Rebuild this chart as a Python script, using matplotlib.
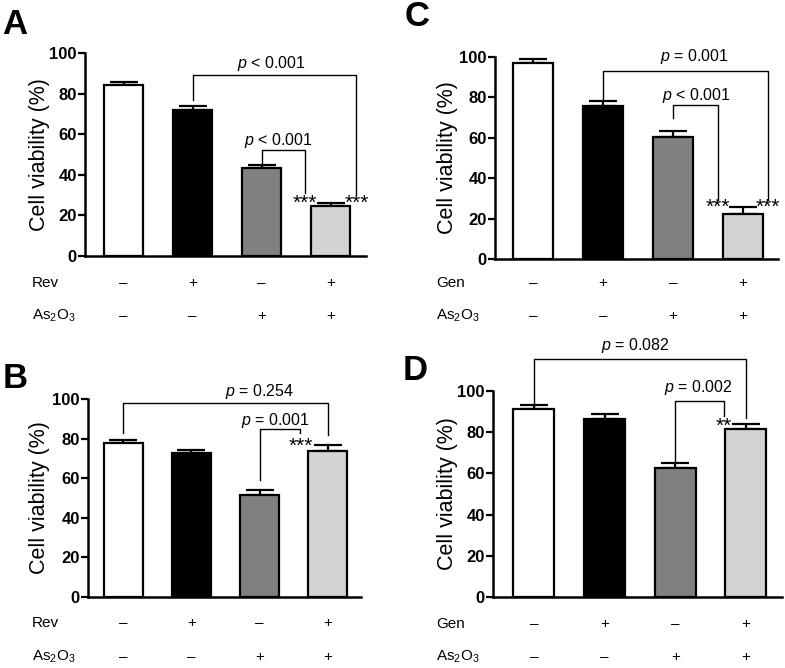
import matplotlib
matplotlib.use("Agg")
import matplotlib.pyplot as plt
from matplotlib.transforms import blended_transform_factory

plt.rcParams['font.family'] = ['Liberation Sans', 'DejaVu Sans']
plt.rcParams['mathtext.fontset'] = 'custom'
plt.rcParams['mathtext.rm'] = 'Liberation Sans'
plt.rcParams['mathtext.it'] = 'Liberation Sans:italic'
plt.rcParams['mathtext.bf'] = 'Liberation Sans:bold'

# ---- data ----
colors = ['#ffffff', '#000000', '#808080', '#d3d3d3']
A_values = [84, 72, 43.5, 24.5]
A_errors = [1.5, 2.0, 1.5, 1.5]
B_values = [78, 72.5, 51.5, 73.5]
B_errors = [1.5, 1.5, 2.5, 3.5]
C_values = [97, 75.5, 60.5, 22.5]
C_errors = [2.0, 2.5, 3.0, 3.0]
D_values = [91.5, 86.5, 62.5, 81.5]
D_errors = [1.5, 2.5, 2.5, 2.5]

rev_signs = ['–', '+', '–', '+']
gen_signs = ['–', '+', '–', '+']
as_signs = ['–', '–', '+', '+']
yticks = [0, 20, 40, 60, 80, 100]

# brackets: (x_left, x_right, y_top, y_left_foot, y_right_foot, p-text, text_x, text_y, stars, star_y)
A_brackets = [
    (1.0, 3.37, 89, 77, 30, ' < 0.001', 2.14, 95, '***', 26),
    (2.0, 2.62, 52, 46, 31, ' < 0.001', 2.24, 57, '***', 26),
]
C_brackets = [
    (1.0, 3.36, 93, 79, 29, ' = 0.001', 2.31, 100, '***', 25.5),
    (2.0, 2.64, 76, 70, 29, ' < 0.001', 2.33, 81, '***', 25.5),
]
B_brackets = [
    (0.0, 3.0, 98, 83, 82, ' = 0.254', 2.0, 104, None, None),
    (2.0, 2.6, 85, 59, 83, ' = 0.001', 2.24, 89, '***', 76),
]
D_brackets = [
    (0.0, 3.0, 115.5, 92.5, 87, ' = 0.082', 1.44, 122, None, None),
    (2.0, 2.69, 95, 65, 88, ' = 0.002', 2.32, 101.5, '**', 83),
]

fig = plt.figure(figsize=(7.85, 6.68), dpi=100)


def panel(rect, xlim, width, values, errors, brackets, row1name, row1, row2,
          row1_y, row2_y, name_x, ylabel_x, letter, letter_xy):
    ax = fig.add_axes(rect)
    x = list(range(len(values)))
    ax.bar(x, values, width=width, color=colors, edgecolor='black',
           linewidth=1.6, zorder=2)
    ax.errorbar(x, values, yerr=[[0] * len(errors), errors], fmt='none',
                ecolor='black', elinewidth=1.6, capsize=10, capthick=1.6,
                zorder=1)
    ax.set_xlim(*xlim)
    ax.set_ylim(0, 100)
    ax.set_yticks(yticks)
    ax.set_yticklabels([str(t) for t in yticks], fontweight='bold', fontsize=12)
    ax.set_xticks([])
    for s in ['top', 'right']:
        ax.spines[s].set_visible(False)
    for s in ['left', 'bottom']:
        ax.spines[s].set_linewidth(1.8)
    ax.tick_params(axis='y', direction='out', length=5, width=1.6, pad=1)
    ax.patch.set_alpha(0)

    for (xl, xr, yt, yfl, yfr, ptxt, tx, ty, stars, sy) in brackets:
        ax.plot([xl, xl, xr, xr], [yfl, yt, yt, yfr], color='black', lw=1.0,
                clip_on=False, zorder=3)
        ax.text(tx, ty, '$\\mathit{p}$' + ptxt, ha='center', va='center',
                fontsize=11.5, clip_on=False)
        if stars is not None:
            ax.text(xr, sy, stars, ha='center', va='center', fontsize=15,
                    clip_on=False)

    tr = blended_transform_factory(ax.transData, fig.transFigure)
    for i in x:
        ax.text(i, 1 - row1_y / 668, row1[i], transform=tr, ha='center',
                va='center', fontsize=11)
        ax.text(i, 1 - row2_y / 668, row2[i], transform=tr, ha='center',
                va='center', fontsize=11)
    fig.text(name_x / 785, 1 - row1_y / 668, row1name, ha='left',
             va='center', fontsize=11)
    fig.text(name_x / 785, 1 - row2_y / 668, 'As$_2$O$_3$', ha='left',
             va='center', fontsize=11)

    fig.text(ylabel_x / 785, rect[1] + rect[3] / 2, 'Cell viability (%)',
             rotation=90, ha='center', va='center', fontsize=15.5)
    fig.text(letter_xy[0] / 785, 1 - letter_xy[1] / 668, letter, ha='left',
             va='center', fontsize=25, fontweight='bold')
    return ax


panel([85 / 785, 1 - 256 / 668, 281 / 785, 203 / 668], (-0.56, 3.51), 0.565,
      A_values, A_errors, A_brackets, 'Rev', rev_signs, as_signs,
      283, 316, 32, 40, 'A', (2, 25))
panel([495 / 785, 1 - 259 / 668, 283 / 785, 202 / 668], (-0.54, 3.5), 0.57,
      C_values, C_errors, C_brackets, 'Gen', gen_signs, as_signs,
      283, 316, 436, 448, 'C', (405, 16))
panel([88 / 785, 1 - 597 / 668, 273 / 785, 198 / 668], (-0.52, 3.49), 0.57,
      B_values, B_errors, B_brackets, 'Rev', rev_signs, as_signs,
      623, 657, 32, 40, 'B', (3, 378))
panel([493 / 785, 1 - 597 / 668, 289 / 785, 206 / 668], (-0.58, 3.51), 0.58,
      D_values, D_errors, D_brackets, 'Gen', gen_signs, as_signs,
      624, 657, 436, 448, 'D', (403, 370))

fig.savefig('out.png', dpi=100)
